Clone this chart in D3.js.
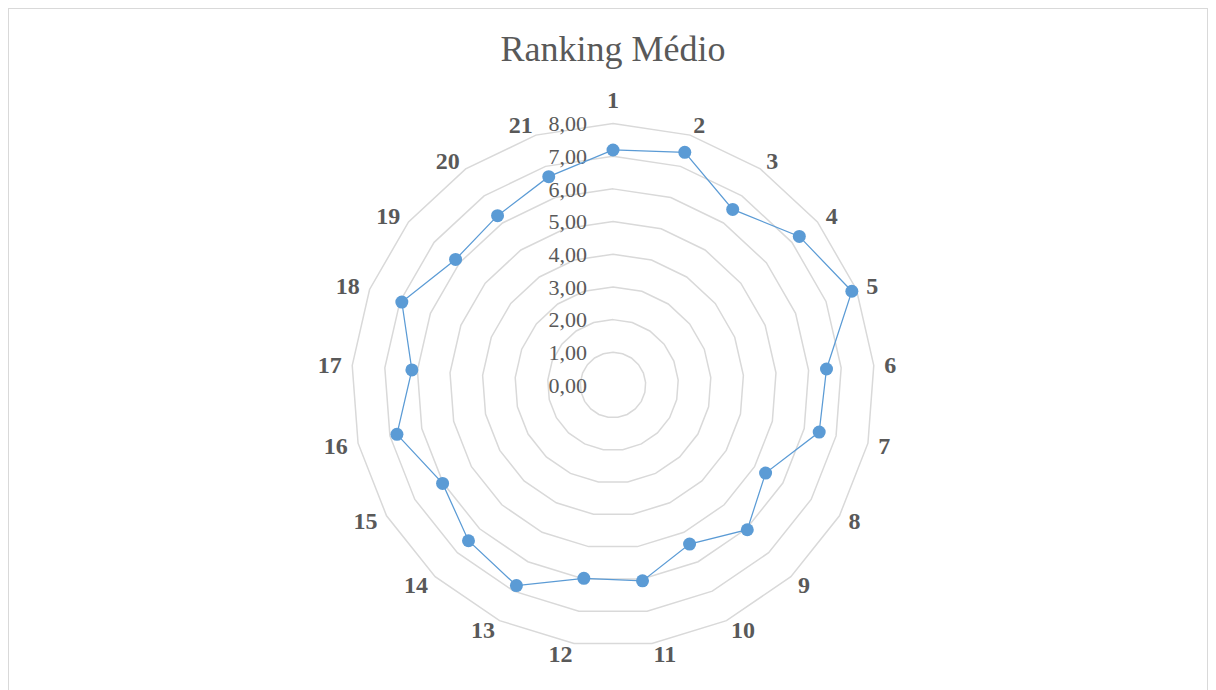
<!DOCTYPE html>
<html><head><meta charset="utf-8">
<script src="https://cdn.jsdelivr.net/npm/d3@7"></script>
<style>html,body{margin:0;padding:0;background:#fff;}svg{display:block;}</style>
</head><body>
<script>
const categories = ["1","2","3","4","5","6","7","8","9","10","11","12","13","14","15","16","17","18","19","20","21"];
const values = [7.19,7.45,6.50,7.29,7.85,6.55,6.47,5.39,6.04,5.40,6.06,5.98,6.81,6.50,6.02,6.78,6.17,6.94,6.16,6.27,6.67];
const tickValues = [0,1,2,3,4,5,6,7,8];
const tickLabels = ["0,00","1,00","2,00","3,00","4,00","5,00","6,00","7,00","8,00"];
const title = "Ranking Médio";

const W = 1216, H = 690;
const cx = 613, cy = 385, R = 261.5;
const FONT = "'Liberation Serif','Times New Roman',serif";
const svg = d3.select("body").append("svg").attr("width", W).attr("height", H);
svg.append("rect").attr("x",8.5).attr("y",8.5).attr("width",1199).attr("height",720)
  .attr("fill","#fff").attr("stroke","#d9d9d9").attr("stroke-width",1);

svg.append("text").attr("x", cx).attr("y", 61).attr("text-anchor","middle")
  .attr("font-family",FONT).attr("font-size",36)
  .attr("fill","#595959").text(title);

const r = d3.scaleLinear().domain([0,8]).range([0,R]);
const ang = d3.scalePoint().domain(categories).range([0, 2*Math.PI*(categories.length-1)/categories.length]);
const g = svg.append("g").attr("transform", `translate(${cx},${cy})`);

const radial = d3.lineRadial().angle(d=>d[0]).radius(d=>d[1]).curve(d3.curveLinearClosed);
// rings
tickValues.forEach(t=>{
  if (t===0) return;
  g.append("path").attr("d", radial(categories.map(c=>[ang(c), r(t)])))
   .attr("fill","none").attr("stroke","#d9d9d9").attr("stroke-width",1.5);
});
// tick labels
g.selectAll(".tick").data(tickValues).enter().append("text")
  .attr("x", -26).attr("y", d=>-r(d)).attr("dy","0.35em").attr("text-anchor","end")
  .attr("font-family",FONT).attr("font-size",22)
  .attr("fill","#595959").text((d,i)=>tickLabels[i]);

// category labels
const LR = 272;
g.selectAll(".cat").data(categories).enter().append("text")
  .attr("x", c=>Math.sin(ang(c))*LR)
  .attr("y", c=>{const a=ang(c), s=Math.sin(a), co=Math.cos(a);
      return -co*LR + (Math.abs(s)<0.01 ? -Math.sign(co)*13 : 0);})
  .attr("dy","0.35em")
  .attr("text-anchor", c=>{const s=Math.sin(ang(c)); return Math.abs(s)<0.01?"middle":(s>0?"start":"end");})
  .attr("font-family",FONT).attr("font-size",24).attr("font-weight","bold")
  .attr("fill","#595959").text(c=>c);

// data
const pts = categories.map((c,i)=>[ang(c), r(values[i])]);
g.append("path").attr("d", radial(pts)).attr("fill","none").attr("stroke","#5b9bd5").attr("stroke-width",1.25);
g.selectAll(".pt").data(pts).enter().append("circle")
  .attr("cx", d=>Math.sin(d[0])*d[1]).attr("cy", d=>-Math.cos(d[0])*d[1])
  .attr("r", 6.5).attr("fill","#5b9bd5");
</script>
</body></html>
